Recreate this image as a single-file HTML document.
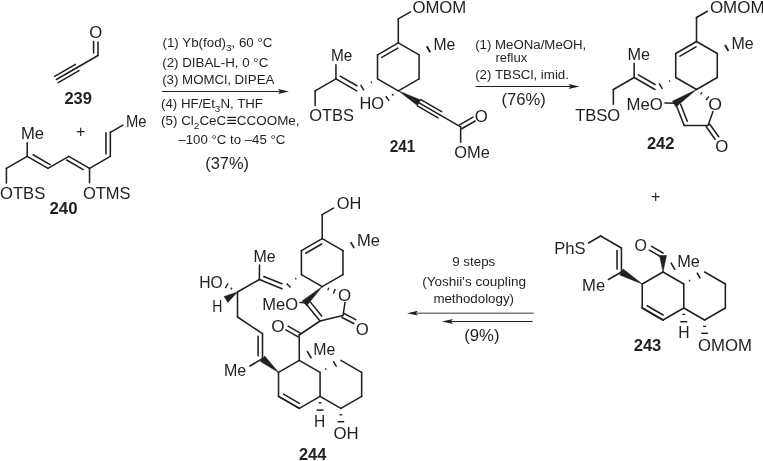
<!DOCTYPE html>
<html lang="en">
<head>
<meta charset="utf-8">
<title>Scheme</title>
<style>
html,body{margin:0;padding:0;background:#fff;}
body{width:763px;height:461px;overflow:hidden;font-family:"Liberation Sans",sans-serif;}
svg{display:block;will-change:transform;filter:grayscale(1);}
</style>
</head>
<body>
<svg width="763" height="461" viewBox="0 0 763 461" font-family="'Liberation Sans', sans-serif">
<text fill="#231f20"><tspan x="162.5" y="47" font-size="13" textLength="63.5" lengthAdjust="spacingAndGlyphs">(1) Yb(fod)</tspan><tspan x="226" y="50.77" font-size="9.75" textLength="5.56" lengthAdjust="spacingAndGlyphs">3</tspan><tspan x="231.56" y="47" font-size="13" textLength="40.91" lengthAdjust="spacingAndGlyphs">, 60 °C</tspan></text>
<text x="162.2" y="67" font-size="13" textLength="106.13" lengthAdjust="spacingAndGlyphs" fill="#231f20">(2) DIBAL-H, 0 °C</text>
<text x="162.2" y="84.2" font-size="13" textLength="112.23" lengthAdjust="spacingAndGlyphs" fill="#231f20">(3) MOMCl, DIPEA</text>
<line x1="162" y1="91.5" x2="282.4" y2="91.5" stroke="#231f20" stroke-width="1.1" stroke-linecap="butt"/>
<polygon points="289,91.5 278,93.9 280.2,91.5 278,89.1" fill="#231f20"/>
<text fill="#231f20"><tspan x="161" y="108" font-size="13" textLength="53.88" lengthAdjust="spacingAndGlyphs">(4) HF/Et</tspan><tspan x="214.88" y="111.77" font-size="9.75" textLength="5.54" lengthAdjust="spacingAndGlyphs">3</tspan><tspan x="220.42" y="108" font-size="13" textLength="42.56" lengthAdjust="spacingAndGlyphs">N, THF</tspan></text>
<text fill="#231f20"><tspan x="161" y="125" font-size="13" textLength="32.82" lengthAdjust="spacingAndGlyphs">(5) Cl</tspan><tspan x="193.82" y="128.77" font-size="9.75" textLength="5.6" lengthAdjust="spacingAndGlyphs">2</tspan><tspan x="199.42" y="125" font-size="13" textLength="26.86" lengthAdjust="spacingAndGlyphs">CeC</tspan><tspan x="226.28" y="126.17" font-size="17.55" textLength="10.58" lengthAdjust="spacingAndGlyphs">≡</tspan><tspan x="236.86" y="125" font-size="13" textLength="62.67" lengthAdjust="spacingAndGlyphs">CCOOMe,</tspan></text>
<text x="178.4" y="143.7" font-size="13" textLength="106.87" lengthAdjust="spacingAndGlyphs" fill="#231f20">–100 °C to –45 °C</text>
<text x="205.2" y="168.7" font-size="16.2" textLength="43.76" lengthAdjust="spacingAndGlyphs" fill="#231f20">(37%)</text>
<text x="475.2" y="49.2" font-size="13" textLength="111.1" lengthAdjust="spacingAndGlyphs" fill="#231f20">(1) MeONa/MeOH,</text>
<text x="495.4" y="61.7" font-size="13" textLength="31.91" lengthAdjust="spacingAndGlyphs" fill="#231f20">reflux</text>
<text x="475.2" y="79" font-size="13" textLength="93.78" lengthAdjust="spacingAndGlyphs" fill="#231f20">(2) TBSCl, imid.</text>
<line x1="475.5" y1="86.5" x2="572.9" y2="86.5" stroke="#231f20" stroke-width="1.1" stroke-linecap="butt"/>
<polygon points="579.5,86.5 568.5,88.9 570.7,86.5 568.5,84.1" fill="#231f20"/>
<text x="501.4" y="105" font-size="16.2" textLength="44.36" lengthAdjust="spacingAndGlyphs" fill="#231f20">(76%)</text>
<text x="452.2" y="266.2" font-size="13" textLength="43.09" lengthAdjust="spacingAndGlyphs" fill="#231f20">9 steps</text>
<text x="422.2" y="285.8" font-size="13" textLength="103.79" lengthAdjust="spacingAndGlyphs" fill="#231f20">(Yoshii's coupling</text>
<text x="433.4" y="303.2" font-size="13" textLength="80.59" lengthAdjust="spacingAndGlyphs" fill="#231f20">methodology)</text>
<line x1="533.7" y1="313.2" x2="413.6" y2="313.2" stroke="#77787b" stroke-width="1.6" stroke-linecap="butt"/>
<polygon points="407,313.2 418,310.8 415.8,313.2 418,315.6" fill="#231f20"/>
<line x1="532.5" y1="321.5" x2="448.6" y2="321.5" stroke="#231f20" stroke-width="1.1" stroke-linecap="butt"/>
<polygon points="442,321.5 453,319.1 450.8,321.5 453,323.9" fill="#231f20"/>
<text x="464.2" y="341.2" font-size="16.2" textLength="35.32" lengthAdjust="spacingAndGlyphs" fill="#231f20">(9%)</text>
<text x="80.7" y="137.1" font-size="16" text-anchor="middle" fill="#231f20">+</text>
<text x="655.6" y="202.3" font-size="16" text-anchor="middle" fill="#231f20">+</text>
<line x1="56.43" y1="79.5" x2="77.22" y2="67.5" stroke="#231f20" stroke-width="1.55" stroke-linecap="round"/>
<line x1="58.23" y1="82.62" x2="79.02" y2="70.62" stroke="#231f20" stroke-width="1.55" stroke-linecap="round"/>
<line x1="54.63" y1="76.38" x2="75.42" y2="64.38" stroke="#231f20" stroke-width="1.55" stroke-linecap="round"/>
<line x1="77.22" y1="67.5" x2="98" y2="55.5" stroke="#231f20" stroke-width="1.55" stroke-linecap="round"/>
<line x1="98" y1="55.5" x2="98" y2="42" stroke="#231f20" stroke-width="1.55" stroke-linecap="round"/>
<line x1="93.6" y1="53" x2="93.6" y2="41.5" stroke="#231f20" stroke-width="1.55" stroke-linecap="round"/>
<text x="89.2" y="37.9" font-size="16.2" textLength="13.06" lengthAdjust="spacingAndGlyphs" fill="#231f20">O</text>
<text x="64.4" y="103.7" font-size="16.5" font-weight="bold" textLength="27.58" lengthAdjust="spacingAndGlyphs" fill="#231f20">239</text>
<line x1="6.42" y1="168.3" x2="6.42" y2="183.1" stroke="#231f20" stroke-width="1.55" stroke-linecap="round"/>
<line x1="6.42" y1="168.3" x2="27.2" y2="156.3" stroke="#231f20" stroke-width="1.55" stroke-linecap="round"/>
<line x1="27.2" y1="156.3" x2="27.2" y2="142.8" stroke="#231f20" stroke-width="1.55" stroke-linecap="round"/>
<line x1="27.2" y1="156.3" x2="47.98" y2="168.3" stroke="#231f20" stroke-width="1.55" stroke-linecap="round"/>
<line x1="33.09" y1="154.74" x2="50.13" y2="164.58" stroke="#231f20" stroke-width="1.55" stroke-linecap="round"/>
<line x1="47.98" y1="168.3" x2="68.77" y2="156.3" stroke="#231f20" stroke-width="1.55" stroke-linecap="round"/>
<line x1="68.77" y1="156.3" x2="89.55" y2="168.3" stroke="#231f20" stroke-width="1.55" stroke-linecap="round"/>
<line x1="66.62" y1="160.02" x2="83.25" y2="169.62" stroke="#231f20" stroke-width="1.55" stroke-linecap="round"/>
<line x1="89.55" y1="168.3" x2="89.55" y2="182.8" stroke="#231f20" stroke-width="1.55" stroke-linecap="round"/>
<line x1="89.55" y1="168.3" x2="110.34" y2="156.3" stroke="#231f20" stroke-width="1.55" stroke-linecap="round"/>
<line x1="110.34" y1="156.3" x2="110.34" y2="132.3" stroke="#231f20" stroke-width="1.55" stroke-linecap="round"/>
<line x1="105.94" y1="153.9" x2="105.94" y2="132.78" stroke="#231f20" stroke-width="1.55" stroke-linecap="round"/>
<line x1="110.34" y1="132.3" x2="122.9" y2="125.05" stroke="#231f20" stroke-width="1.55" stroke-linecap="round"/>
<text x="20.9" y="139" font-size="16.2" textLength="23.09" lengthAdjust="spacingAndGlyphs" fill="#231f20">Me</text>
<text x="125.9" y="127" font-size="16.2" textLength="20.59" lengthAdjust="spacingAndGlyphs" fill="#231f20">Me</text>
<text x="0.1" y="198.7" font-size="16.2" textLength="45.16" lengthAdjust="spacingAndGlyphs" fill="#231f20">OTBS</text>
<text x="82.9" y="198.7" font-size="16.2" textLength="47.68" lengthAdjust="spacingAndGlyphs" fill="#231f20">OTMS</text>
<text x="49.5" y="213.7" font-size="16.5" font-weight="bold" textLength="28.08" lengthAdjust="spacingAndGlyphs" fill="#231f20">240</text>
<line x1="398.3" y1="42.8" x2="419.08" y2="54.8" stroke="#231f20" stroke-width="1.55" stroke-linecap="round"/>
<line x1="419.08" y1="54.8" x2="419.08" y2="78.8" stroke="#231f20" stroke-width="1.55" stroke-linecap="round"/>
<line x1="419.08" y1="78.8" x2="398.3" y2="90.8" stroke="#231f20" stroke-width="1.55" stroke-linecap="round"/>
<line x1="398.3" y1="90.8" x2="377.52" y2="78.8" stroke="#231f20" stroke-width="1.55" stroke-linecap="round"/>
<line x1="377.52" y1="78.8" x2="377.52" y2="54.8" stroke="#231f20" stroke-width="1.55" stroke-linecap="round"/>
<line x1="377.52" y1="54.8" x2="398.3" y2="42.8" stroke="#231f20" stroke-width="1.55" stroke-linecap="round"/>
<line x1="381.79" y1="57.41" x2="397.8" y2="48.17" stroke="#231f20" stroke-width="1.55" stroke-linecap="round"/>
<line x1="398.3" y1="42.8" x2="398.3" y2="18.8" stroke="#231f20" stroke-width="1.55" stroke-linecap="round"/>
<line x1="398.3" y1="18.8" x2="410.42" y2="11.8" stroke="#231f20" stroke-width="1.55" stroke-linecap="round"/>
<text x="412.4" y="13.4" font-size="16.2" textLength="53.93" lengthAdjust="spacingAndGlyphs" fill="#231f20">OMOM</text>
<line x1="430.27" y1="52.38" x2="426.77" y2="46.32" stroke="#231f20" stroke-width="1.9" stroke-linecap="butt"/>
<text x="433.4" y="50" font-size="16.2" textLength="21.89" lengthAdjust="spacingAndGlyphs" fill="#231f20">Me</text>
<line x1="371" y1="81.52" x2="371.9" y2="83.08" stroke="#231f20" stroke-width="1.3" stroke-linecap="butt" opacity="0.9"/>
<line x1="360.65" y1="84.79" x2="363.9" y2="90.41" stroke="#231f20" stroke-width="1.5" stroke-linecap="butt"/>
<line x1="335.95" y1="78.8" x2="356.73" y2="90.8" stroke="#231f20" stroke-width="1.55" stroke-linecap="round"/>
<line x1="340.22" y1="76.19" x2="356.85" y2="85.79" stroke="#231f20" stroke-width="1.55" stroke-linecap="round"/>
<line x1="335.95" y1="78.8" x2="335.95" y2="64.8" stroke="#231f20" stroke-width="1.55" stroke-linecap="round"/>
<line x1="335.95" y1="78.8" x2="315.16" y2="90.8" stroke="#231f20" stroke-width="1.55" stroke-linecap="round"/>
<line x1="315.16" y1="90.8" x2="315.16" y2="105.5" stroke="#231f20" stroke-width="1.55" stroke-linecap="round"/>
<text x="330.9" y="61.2" font-size="16.2" textLength="21.39" lengthAdjust="spacingAndGlyphs" fill="#231f20">Me</text>
<text x="309.2" y="121.2" font-size="16.2" textLength="44.76" lengthAdjust="spacingAndGlyphs" fill="#231f20">OTBS</text>
<line x1="392.06" y1="93.94" x2="393.35" y2="95.73" stroke="#231f20" stroke-width="1.3" stroke-linecap="butt"/>
<line x1="385.82" y1="96.23" x2="389.21" y2="100.93" stroke="#231f20" stroke-width="1.5" stroke-linecap="butt"/>
<text x="359.4" y="108.7" font-size="16.2" textLength="24.6" lengthAdjust="spacingAndGlyphs" fill="#231f20">HO</text>
<polygon points="398.3,90.8 417.46,105.61 420.71,99.99" fill="#231f20" stroke="#231f20" stroke-width="0.5" stroke-linejoin="round"/>
<line x1="419.08" y1="102.8" x2="439.87" y2="114.8" stroke="#231f20" stroke-width="1.55" stroke-linecap="round"/>
<line x1="417.28" y1="105.92" x2="438.07" y2="117.92" stroke="#231f20" stroke-width="1.55" stroke-linecap="round"/>
<line x1="420.88" y1="99.68" x2="441.67" y2="111.68" stroke="#231f20" stroke-width="1.55" stroke-linecap="round"/>
<line x1="439.87" y1="114.8" x2="460.65" y2="126.8" stroke="#231f20" stroke-width="1.55" stroke-linecap="round"/>
<line x1="461.75" y1="128.71" x2="475.18" y2="120.96" stroke="#231f20" stroke-width="1.55" stroke-linecap="round"/>
<line x1="459.55" y1="124.89" x2="472.98" y2="117.14" stroke="#231f20" stroke-width="1.55" stroke-linecap="round"/>
<line x1="460.65" y1="126.8" x2="460.65" y2="142.3" stroke="#231f20" stroke-width="1.55" stroke-linecap="round"/>
<text x="474.7" y="122" font-size="16.2" textLength="13.06" lengthAdjust="spacingAndGlyphs" fill="#231f20">O</text>
<text x="454.2" y="158" font-size="16.2" textLength="35.63" lengthAdjust="spacingAndGlyphs" fill="#231f20">OMe</text>
<text x="389.7" y="152" font-size="16.5" font-weight="bold" textLength="25.58" lengthAdjust="spacingAndGlyphs" fill="#231f20">241</text>
<line x1="696.5" y1="41.5" x2="717.28" y2="53.5" stroke="#231f20" stroke-width="1.55" stroke-linecap="round"/>
<line x1="717.28" y1="53.5" x2="717.28" y2="77.5" stroke="#231f20" stroke-width="1.55" stroke-linecap="round"/>
<line x1="717.28" y1="77.5" x2="696.5" y2="89.5" stroke="#231f20" stroke-width="1.55" stroke-linecap="round"/>
<line x1="696.5" y1="89.5" x2="675.72" y2="77.5" stroke="#231f20" stroke-width="1.55" stroke-linecap="round"/>
<line x1="675.72" y1="77.5" x2="675.72" y2="53.5" stroke="#231f20" stroke-width="1.55" stroke-linecap="round"/>
<line x1="675.72" y1="53.5" x2="696.5" y2="41.5" stroke="#231f20" stroke-width="1.55" stroke-linecap="round"/>
<line x1="679.99" y1="56.11" x2="696" y2="46.87" stroke="#231f20" stroke-width="1.55" stroke-linecap="round"/>
<line x1="696.5" y1="41.5" x2="696.5" y2="17.5" stroke="#231f20" stroke-width="1.55" stroke-linecap="round"/>
<line x1="696.5" y1="17.5" x2="707.33" y2="11.25" stroke="#231f20" stroke-width="1.55" stroke-linecap="round"/>
<text x="709.9" y="12.6" font-size="16.2" textLength="54.63" lengthAdjust="spacingAndGlyphs" fill="#231f20">OMOM</text>
<line x1="728.47" y1="51.08" x2="724.97" y2="45.02" stroke="#231f20" stroke-width="1.9" stroke-linecap="butt"/>
<text x="731.4" y="48.7" font-size="16.2" textLength="22.19" lengthAdjust="spacingAndGlyphs" fill="#231f20">Me</text>
<line x1="669.2" y1="80.22" x2="670.1" y2="81.78" stroke="#231f20" stroke-width="1.3" stroke-linecap="butt" opacity="0.9"/>
<line x1="659.11" y1="83.34" x2="662.36" y2="88.96" stroke="#231f20" stroke-width="1.5" stroke-linecap="butt"/>
<line x1="634.15" y1="77.5" x2="654.93" y2="89.5" stroke="#231f20" stroke-width="1.55" stroke-linecap="round"/>
<line x1="638.42" y1="74.89" x2="655.05" y2="84.49" stroke="#231f20" stroke-width="1.55" stroke-linecap="round"/>
<line x1="634.15" y1="77.5" x2="634.15" y2="63.5" stroke="#231f20" stroke-width="1.55" stroke-linecap="round"/>
<line x1="634.15" y1="77.5" x2="613.36" y2="89.5" stroke="#231f20" stroke-width="1.55" stroke-linecap="round"/>
<line x1="613.36" y1="89.5" x2="613.36" y2="104.2" stroke="#231f20" stroke-width="1.55" stroke-linecap="round"/>
<text x="627.4" y="60.1" font-size="16.2" textLength="22.59" lengthAdjust="spacingAndGlyphs" fill="#231f20">Me</text>
<text x="575.2" y="120.7" font-size="16.2" textLength="45.06" lengthAdjust="spacingAndGlyphs" fill="#231f20">TBSO</text>
<polygon points="696.5,89.5 672.3,101.23 676.02,106.92" fill="#231f20" stroke="#231f20" stroke-width="0.5" stroke-linejoin="round"/>
<line x1="665" y1="103" x2="675.5" y2="103.2" stroke="#231f20" stroke-width="1.55" stroke-linecap="round"/>
<line x1="675.5" y1="103.2" x2="684.2" y2="125.5" stroke="#231f20" stroke-width="1.55" stroke-linecap="round"/>
<line x1="680.64" y1="104.28" x2="687.26" y2="121.22" stroke="#231f20" stroke-width="1.55" stroke-linecap="round"/>
<line x1="684.2" y1="125.5" x2="708" y2="125.5" stroke="#231f20" stroke-width="1.55" stroke-linecap="round"/>
<line x1="708" y1="125.5" x2="713" y2="111.5" stroke="#231f20" stroke-width="1.55" stroke-linecap="round"/>
<line x1="700.51" y1="94.4" x2="702.14" y2="92.38" stroke="#231f20" stroke-width="1.3" stroke-linecap="butt"/>
<line x1="706.09" y1="100.06" x2="708.86" y2="96.64" stroke="#231f20" stroke-width="1.5" stroke-linecap="butt"/>
<line x1="706.21" y1="126.78" x2="715.11" y2="139.28" stroke="#231f20" stroke-width="1.55" stroke-linecap="round"/>
<line x1="709.79" y1="124.22" x2="718.69" y2="136.72" stroke="#231f20" stroke-width="1.55" stroke-linecap="round"/>
<text x="626.5" y="109.6" font-size="16.2" textLength="36.33" lengthAdjust="spacingAndGlyphs" fill="#231f20">MeO</text>
<text x="708.3" y="109.5" font-size="16.2" textLength="13.76" lengthAdjust="spacingAndGlyphs" fill="#231f20">O</text>
<text x="715.2" y="152" font-size="16.2" textLength="13.06" lengthAdjust="spacingAndGlyphs" fill="#231f20">O</text>
<text x="646.9" y="149.1" font-size="16.5" font-weight="bold" textLength="27.58" lengthAdjust="spacingAndGlyphs" fill="#231f20">242</text>
<line x1="642.22" y1="284" x2="663" y2="272" stroke="#231f20" stroke-width="1.55" stroke-linecap="round"/>
<line x1="663" y1="272" x2="683.78" y2="284" stroke="#231f20" stroke-width="1.55" stroke-linecap="round"/>
<line x1="683.78" y1="284" x2="683.78" y2="308" stroke="#231f20" stroke-width="1.55" stroke-linecap="round"/>
<line x1="683.78" y1="308" x2="663" y2="320" stroke="#231f20" stroke-width="1.55" stroke-linecap="round"/>
<line x1="663" y1="320" x2="642.22" y2="308" stroke="#231f20" stroke-width="1.55" stroke-linecap="round"/>
<line x1="642.22" y1="308" x2="642.22" y2="284" stroke="#231f20" stroke-width="1.55" stroke-linecap="round"/>
<line x1="663" y1="320" x2="642.22" y2="308" stroke="#231f20" stroke-width="1.55" stroke-linecap="round"/>
<line x1="663.12" y1="314.99" x2="647.12" y2="305.75" stroke="#231f20" stroke-width="1.55" stroke-linecap="round"/>
<line x1="704.57" y1="272" x2="725.35" y2="284" stroke="#231f20" stroke-width="1.55" stroke-linecap="round"/>
<line x1="725.35" y1="284" x2="725.35" y2="308" stroke="#231f20" stroke-width="1.55" stroke-linecap="round"/>
<line x1="725.35" y1="308" x2="704.57" y2="320" stroke="#231f20" stroke-width="1.55" stroke-linecap="round"/>
<line x1="704.57" y1="320" x2="683.78" y2="308" stroke="#231f20" stroke-width="1.55" stroke-linecap="round"/>
<line x1="690.04" y1="281.43" x2="689.14" y2="279.87" stroke="#231f20" stroke-width="1.3" stroke-linecap="butt" opacity="0.9"/>
<line x1="700.22" y1="278.26" x2="696.97" y2="272.64" stroke="#231f20" stroke-width="1.5" stroke-linecap="butt"/>
<line x1="588.52" y1="243" x2="600.65" y2="236" stroke="#231f20" stroke-width="1.55" stroke-linecap="round"/>
<line x1="600.65" y1="236" x2="621.43" y2="248" stroke="#231f20" stroke-width="1.55" stroke-linecap="round"/>
<line x1="621.43" y1="248" x2="621.43" y2="272" stroke="#231f20" stroke-width="1.55" stroke-linecap="round"/>
<line x1="617.03" y1="250.4" x2="617.03" y2="269.12" stroke="#231f20" stroke-width="1.55" stroke-linecap="round"/>
<line x1="621.43" y1="272" x2="608.44" y2="279.5" stroke="#231f20" stroke-width="1.55" stroke-linecap="round"/>
<polygon points="642.22,284 623.18,268.97 619.68,275.03" fill="#231f20" stroke="#231f20" stroke-width="0.5" stroke-linejoin="round"/>
<polygon points="663,272 666.5,255.5 659.5,255.5" fill="#231f20" stroke="#231f20" stroke-width="0.5" stroke-linejoin="round"/>
<line x1="663.06" y1="252.99" x2="651.54" y2="246.34" stroke="#231f20" stroke-width="1.55" stroke-linecap="round"/>
<line x1="660.86" y1="256.81" x2="649.34" y2="250.16" stroke="#231f20" stroke-width="1.55" stroke-linecap="round"/>
<line x1="675.03" y1="269.84" x2="670.88" y2="262.66" stroke="#231f20" stroke-width="1.6" stroke-linecap="butt"/>
<text x="554.3" y="253.9" font-size="16.2" textLength="31.4" lengthAdjust="spacingAndGlyphs" fill="#231f20">PhS</text>
<text x="634.4" y="250.6" font-size="16.2" textLength="12.46" lengthAdjust="spacingAndGlyphs" fill="#231f20">O</text>
<text x="677.2" y="266.5" font-size="16.2" textLength="22.59" lengthAdjust="spacingAndGlyphs" fill="#231f20">Me</text>
<text x="582.1" y="290.6" font-size="16.2" textLength="23.19" lengthAdjust="spacingAndGlyphs" fill="#231f20">Me</text>
<line x1="682.28" y1="314.4" x2="685.28" y2="314.4" stroke="#231f20" stroke-width="1.3" stroke-linecap="butt"/>
<line x1="680.28" y1="321.7" x2="687.28" y2="321.7" stroke="#231f20" stroke-width="1.5" stroke-linecap="butt"/>
<text x="678.2" y="338.4" font-size="16.2" textLength="11.33" lengthAdjust="spacingAndGlyphs" fill="#231f20">H</text>
<line x1="703.07" y1="326.4" x2="706.07" y2="326.4" stroke="#231f20" stroke-width="1.3" stroke-linecap="butt"/>
<line x1="701.27" y1="333.3" x2="707.87" y2="333.3" stroke="#231f20" stroke-width="1.5" stroke-linecap="butt"/>
<text x="698.1" y="351.2" font-size="16.2" textLength="53.93" lengthAdjust="spacingAndGlyphs" fill="#231f20">OMOM</text>
<text x="633.7" y="350.5" font-size="16.5" font-weight="bold" textLength="27.58" lengthAdjust="spacingAndGlyphs" fill="#231f20">243</text>
<line x1="322.2" y1="238.6" x2="342.98" y2="250.6" stroke="#231f20" stroke-width="1.55" stroke-linecap="round"/>
<line x1="342.98" y1="250.6" x2="342.98" y2="274.6" stroke="#231f20" stroke-width="1.55" stroke-linecap="round"/>
<line x1="342.98" y1="274.6" x2="322.2" y2="286.6" stroke="#231f20" stroke-width="1.55" stroke-linecap="round"/>
<line x1="322.2" y1="286.6" x2="301.42" y2="274.6" stroke="#231f20" stroke-width="1.55" stroke-linecap="round"/>
<line x1="301.42" y1="274.6" x2="301.42" y2="250.6" stroke="#231f20" stroke-width="1.55" stroke-linecap="round"/>
<line x1="301.42" y1="250.6" x2="322.2" y2="238.6" stroke="#231f20" stroke-width="1.55" stroke-linecap="round"/>
<line x1="305.69" y1="253.21" x2="321.7" y2="243.97" stroke="#231f20" stroke-width="1.55" stroke-linecap="round"/>
<line x1="322.2" y1="238.6" x2="322.2" y2="214.6" stroke="#231f20" stroke-width="1.55" stroke-linecap="round"/>
<line x1="322.2" y1="214.6" x2="333.46" y2="208.1" stroke="#231f20" stroke-width="1.55" stroke-linecap="round"/>
<text x="336.7" y="208.7" font-size="16.2" textLength="24.6" lengthAdjust="spacingAndGlyphs" fill="#231f20">OH</text>
<line x1="354.17" y1="248.18" x2="350.67" y2="242.12" stroke="#231f20" stroke-width="1.7" stroke-linecap="butt"/>
<text x="357.1" y="245.5" font-size="16.2" textLength="22.99" lengthAdjust="spacingAndGlyphs" fill="#231f20">Me</text>
<line x1="295.22" y1="277.99" x2="296.28" y2="279.44" stroke="#231f20" stroke-width="1.3" stroke-linecap="butt" opacity="0.9"/>
<line x1="286.6" y1="283.4" x2="290.6" y2="287.6" stroke="#231f20" stroke-width="1.5" stroke-linecap="butt"/>
<line x1="259.4" y1="279.5" x2="282" y2="288.7" stroke="#231f20" stroke-width="1.55" stroke-linecap="round"/>
<line x1="263.81" y1="276.44" x2="281.89" y2="283.8" stroke="#231f20" stroke-width="1.55" stroke-linecap="round"/>
<line x1="259.4" y1="279.5" x2="259.5" y2="265" stroke="#231f20" stroke-width="1.55" stroke-linecap="round"/>
<line x1="259.4" y1="279.5" x2="237.5" y2="292" stroke="#231f20" stroke-width="1.55" stroke-linecap="round"/>
<text x="253.4" y="261.7" font-size="16.2" textLength="22.19" lengthAdjust="spacingAndGlyphs" fill="#231f20">Me</text>
<line x1="231.99" y1="287.55" x2="230.89" y2="289.45" stroke="#231f20" stroke-width="1.3" stroke-linecap="butt"/>
<line x1="227.97" y1="283.5" x2="225.37" y2="288.01" stroke="#231f20" stroke-width="1.5" stroke-linecap="butt"/>
<text x="199.2" y="287.7" font-size="16.2" textLength="23.5" lengthAdjust="spacingAndGlyphs" fill="#231f20">HO</text>
<polygon points="237.5,292 224.09,296.57 227.91,302.43" fill="#231f20" stroke="#231f20" stroke-width="0.5" stroke-linejoin="round"/>
<text x="212.2" y="312" font-size="16.2" textLength="10.13" lengthAdjust="spacingAndGlyphs" fill="#231f20">H</text>
<line x1="237.5" y1="292" x2="237.5" y2="317" stroke="#231f20" stroke-width="1.55" stroke-linecap="round"/>
<line x1="237.5" y1="317" x2="262.5" y2="333.7" stroke="#231f20" stroke-width="1.55" stroke-linecap="round"/>
<line x1="262.5" y1="333.7" x2="262.5" y2="358.7" stroke="#231f20" stroke-width="1.55" stroke-linecap="round"/>
<line x1="258.1" y1="336.2" x2="258.1" y2="355.7" stroke="#231f20" stroke-width="1.55" stroke-linecap="round"/>
<line x1="262.5" y1="358.7" x2="250" y2="366" stroke="#231f20" stroke-width="1.55" stroke-linecap="round"/>
<text x="224" y="376" font-size="16.2" textLength="22.29" lengthAdjust="spacingAndGlyphs" fill="#231f20">Me</text>
<polygon points="278.52,372.4 264.78,356.04 260.22,361.36" fill="#231f20" stroke="#231f20" stroke-width="0.5" stroke-linejoin="round"/>
<line x1="278.52" y1="372.4" x2="299.3" y2="360.4" stroke="#231f20" stroke-width="1.55" stroke-linecap="round"/>
<line x1="299.3" y1="360.4" x2="320.08" y2="372.4" stroke="#231f20" stroke-width="1.55" stroke-linecap="round"/>
<line x1="320.08" y1="372.4" x2="320.08" y2="396.4" stroke="#231f20" stroke-width="1.55" stroke-linecap="round"/>
<line x1="320.08" y1="396.4" x2="299.3" y2="408.4" stroke="#231f20" stroke-width="1.55" stroke-linecap="round"/>
<line x1="299.3" y1="408.4" x2="278.52" y2="396.4" stroke="#231f20" stroke-width="1.55" stroke-linecap="round"/>
<line x1="278.52" y1="396.4" x2="278.52" y2="372.4" stroke="#231f20" stroke-width="1.55" stroke-linecap="round"/>
<line x1="299.3" y1="408.4" x2="278.52" y2="396.4" stroke="#231f20" stroke-width="1.55" stroke-linecap="round"/>
<line x1="299.42" y1="403.39" x2="283.42" y2="394.15" stroke="#231f20" stroke-width="1.55" stroke-linecap="round"/>
<line x1="340.87" y1="360.4" x2="361.65" y2="372.4" stroke="#231f20" stroke-width="1.55" stroke-linecap="round"/>
<line x1="361.65" y1="372.4" x2="361.65" y2="396.4" stroke="#231f20" stroke-width="1.55" stroke-linecap="round"/>
<line x1="361.65" y1="396.4" x2="340.87" y2="408.4" stroke="#231f20" stroke-width="1.55" stroke-linecap="round"/>
<line x1="340.87" y1="408.4" x2="320.08" y2="396.4" stroke="#231f20" stroke-width="1.55" stroke-linecap="round"/>
<line x1="326.34" y1="369.83" x2="325.44" y2="368.27" stroke="#231f20" stroke-width="1.3" stroke-linecap="butt" opacity="0.9"/>
<line x1="336.52" y1="366.66" x2="333.27" y2="361.04" stroke="#231f20" stroke-width="1.5" stroke-linecap="butt"/>
<line x1="311.33" y1="358.24" x2="307.18" y2="351.06" stroke="#231f20" stroke-width="1.6" stroke-linecap="butt"/>
<text x="313.2" y="354.8" font-size="16.2" textLength="22.09" lengthAdjust="spacingAndGlyphs" fill="#231f20">Me</text>
<line x1="299.3" y1="360.4" x2="299.2" y2="335" stroke="#231f20" stroke-width="1.55" stroke-linecap="round"/>
<line x1="300.29" y1="333.09" x2="288.09" y2="326.09" stroke="#231f20" stroke-width="1.55" stroke-linecap="round"/>
<line x1="298.11" y1="336.91" x2="285.91" y2="329.91" stroke="#231f20" stroke-width="1.55" stroke-linecap="round"/>
<text x="271.3" y="331.5" font-size="16.2" textLength="13.36" lengthAdjust="spacingAndGlyphs" fill="#231f20">O</text>
<line x1="299.2" y1="335" x2="320" y2="321" stroke="#231f20" stroke-width="1.55" stroke-linecap="round"/>
<line x1="305.2" y1="302.7" x2="320" y2="321" stroke="#231f20" stroke-width="1.55" stroke-linecap="round"/>
<line x1="310.4" y1="302.13" x2="321.65" y2="316.04" stroke="#231f20" stroke-width="1.55" stroke-linecap="round"/>
<line x1="320" y1="321" x2="343" y2="315.5" stroke="#231f20" stroke-width="1.55" stroke-linecap="round"/>
<polygon points="322.2,286.6 302.14,300.92 306.81,305.86" fill="#231f20" stroke="#231f20" stroke-width="0.5" stroke-linejoin="round"/>
<line x1="300" y1="302.6" x2="305.2" y2="302.7" stroke="#231f20" stroke-width="1.55" stroke-linecap="round"/>
<text x="262.3" y="309.8" font-size="16.2" textLength="35.83" lengthAdjust="spacingAndGlyphs" fill="#231f20">MeO</text>
<line x1="343" y1="315.5" x2="345" y2="302.5" stroke="#231f20" stroke-width="1.55" stroke-linecap="round"/>
<line x1="327.79" y1="290.16" x2="328.73" y2="287.73" stroke="#231f20" stroke-width="1.3" stroke-linecap="butt"/>
<line x1="333.46" y1="293.53" x2="335.19" y2="289.05" stroke="#231f20" stroke-width="1.5" stroke-linecap="butt"/>
<text x="338.1" y="301" font-size="16.2" textLength="13.16" lengthAdjust="spacingAndGlyphs" fill="#231f20">O</text>
<line x1="341.99" y1="317.45" x2="353.79" y2="323.55" stroke="#231f20" stroke-width="1.55" stroke-linecap="round"/>
<line x1="344.01" y1="313.55" x2="355.81" y2="319.65" stroke="#231f20" stroke-width="1.55" stroke-linecap="round"/>
<text x="355.7" y="335" font-size="16.2" textLength="13.06" lengthAdjust="spacingAndGlyphs" fill="#231f20">O</text>
<line x1="318.58" y1="402.8" x2="321.58" y2="402.8" stroke="#231f20" stroke-width="1.3" stroke-linecap="butt"/>
<line x1="316.58" y1="410.1" x2="323.58" y2="410.1" stroke="#231f20" stroke-width="1.5" stroke-linecap="butt"/>
<text x="314.1" y="426.5" font-size="16.2" textLength="11.23" lengthAdjust="spacingAndGlyphs" fill="#231f20">H</text>
<line x1="339.37" y1="414.8" x2="342.37" y2="414.8" stroke="#231f20" stroke-width="1.3" stroke-linecap="butt"/>
<line x1="337.57" y1="421.7" x2="344.17" y2="421.7" stroke="#231f20" stroke-width="1.5" stroke-linecap="butt"/>
<text x="333.5" y="439" font-size="16.2" textLength="25.1" lengthAdjust="spacingAndGlyphs" fill="#231f20">OH</text>
<text x="299" y="460" font-size="16.5" font-weight="bold" textLength="27.28" lengthAdjust="spacingAndGlyphs" fill="#231f20">244</text>
</svg>
</body>
</html>
